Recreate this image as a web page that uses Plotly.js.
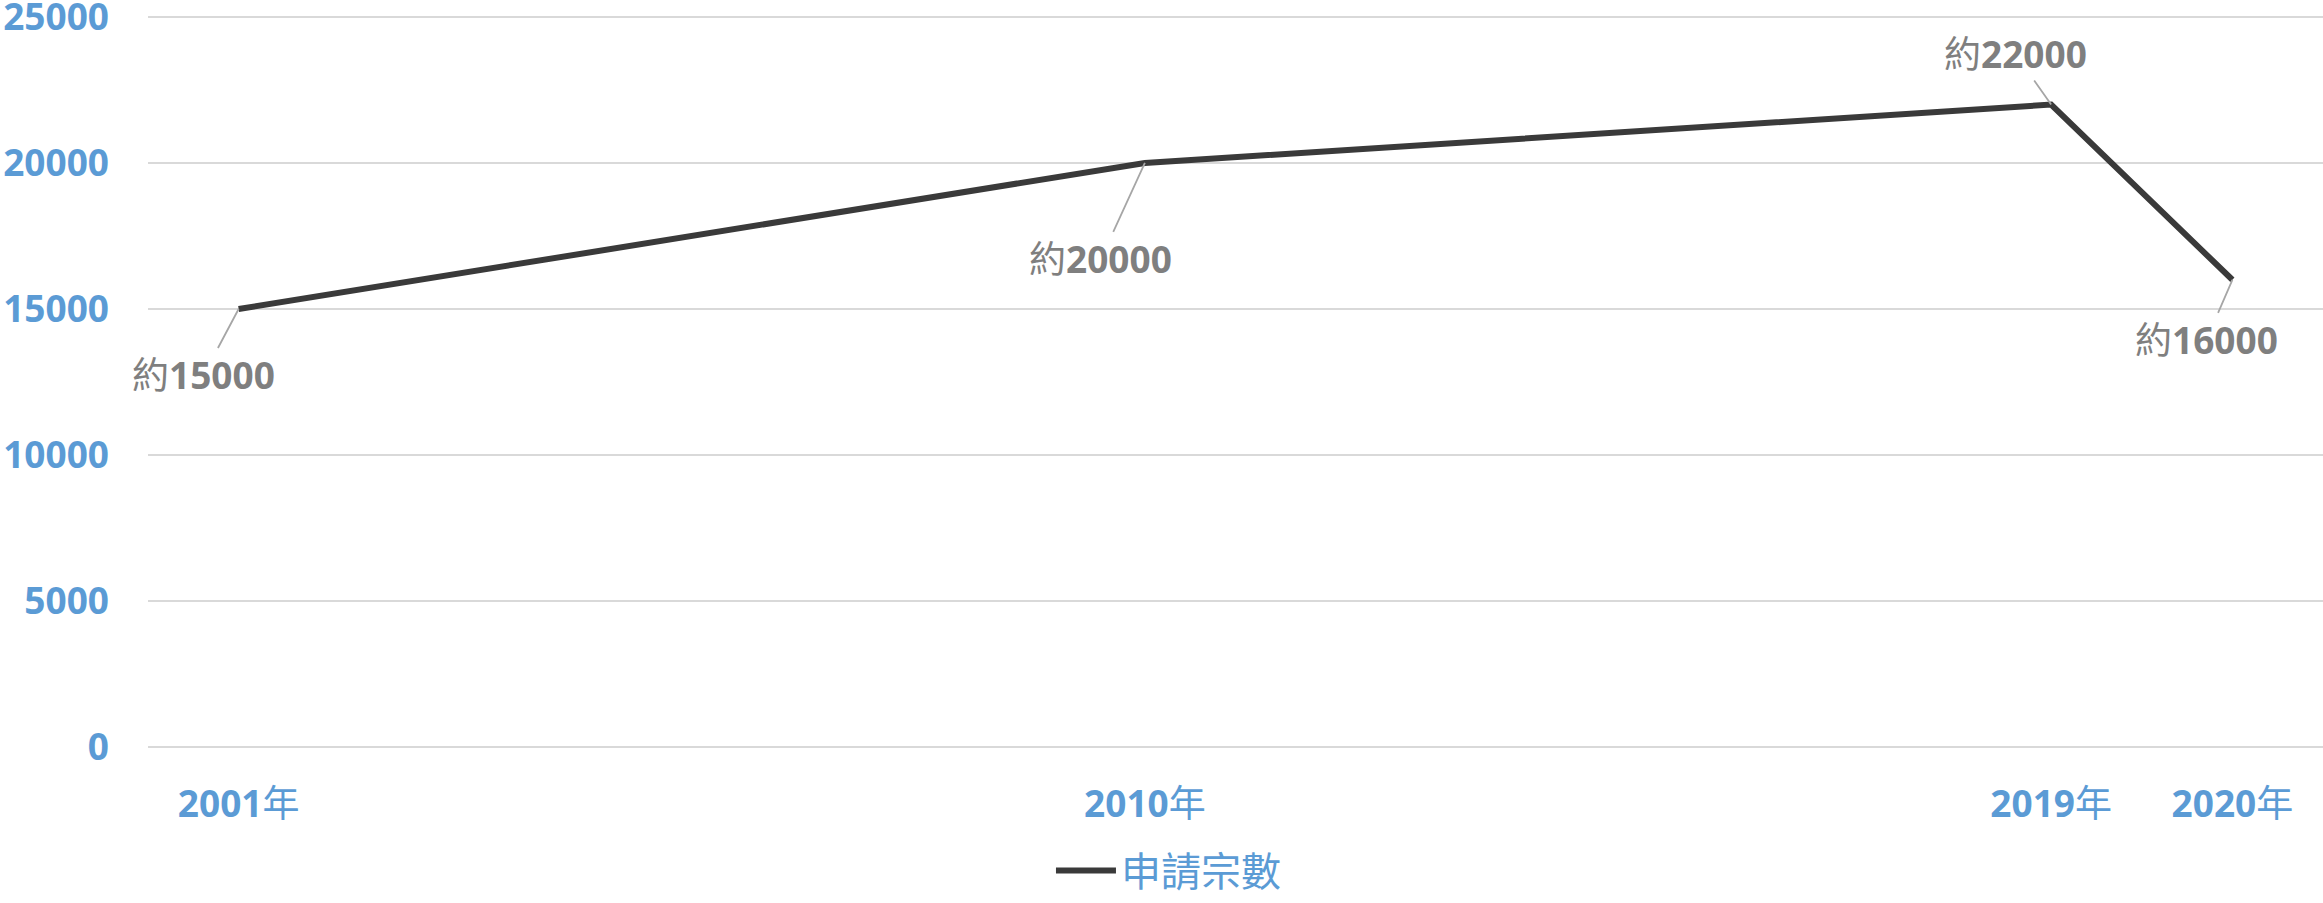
<!DOCTYPE html>
<html>
<head>
<meta charset="utf-8">
<script src="https://cdn.plot.ly/plotly-3.0.1.min.js"></script>
<style>
  html, body { margin: 0; padding: 0; background: #ffffff; }
  #chart { width: 2323px; height: 903px; }
</style>
</head>
<body>
<div id="chart"></div>
<script>
// ---- data ----
const years = [2001, 2010, 2019, 2020];
const applications = [15000, 20000, 22000, 16000];
const seriesName = '申請宗數';
const labelPrefix = '約';
const yTicks = [0, 5000, 10000, 15000, 20000, 25000];

// category slots on the original chart's axis (uneven spacing as drawn)
const slots = [0, 5, 10, 11];

const blue = '#5B9BD5';
const gray = '#7F7F7F';
const fontFam = '"Noto Sans", "Noto Sans CJK TC", sans-serif';

// label offsets (pixels) for the data labels, matching the reference placement
const labelOffsets = [[-35, 66], [-44, 96], [-36, -51], [-26, 60]];

const trace = {
  x: slots,
  y: applications,
  type: 'scatter',
  mode: 'lines',
  name: seriesName,
  line: { color: '#3A3A3A', width: 6 },
  hoverinfo: 'skip',
  showlegend: true
};

const annotations = applications.map((v, i) => ({
  x: slots[i],
  y: v,
  xref: 'x',
  yref: 'y',
  text: labelPrefix + '<b>' + v + '</b>',
  showarrow: true,
  arrowhead: 0,
  arrowwidth: 1.8,
  arrowcolor: '#A6A6A6',
  ax: labelOffsets[i][0],
  ay: labelOffsets[i][1],
  standoff: 0,
  font: { family: fontFam, size: 37, color: gray, weight: 'normal' }
}));

const layout = {
  width: 2323,
  height: 903,
  margin: { l: 148, r: 0, t: 14, b: 153 },
  paper_bgcolor: '#ffffff',
  plot_bgcolor: '#ffffff',
  font: { family: fontFam },
  xaxis: {
    type: 'linear',
    range: [-0.5, 11.5],
    automargin: false,
    tickmode: 'array',
    tickvals: slots,
    ticktext: years.map(y => '<b>' + y + '</b>年'),
    showgrid: false,
    zeroline: false,
    showline: false,
    ticks: '',
    ticklabelstandoff: 29,
    tickfont: { family: fontFam, size: 37, color: blue, weight: 'normal' },
    fixedrange: true
  },
  yaxis: {
    range: [-100, 25100],
    automargin: false,
    tickmode: 'array',
    tickvals: yTicks,
    ticktext: yTicks.map(String),
    showgrid: true,
    gridcolor: '#D9D9D9',
    gridwidth: 2,
    zeroline: false,
    showline: false,
    ticks: '',
    ticklabelstandoff: 38,
    ticklabeloverflow: 'allow',
    tickfont: { family: fontFam, size: 37, color: blue, weight: 'bold' },
    fixedrange: true
  },
  showlegend: true,
  legend: {
    orientation: 'h',
    xref: 'container',
    yref: 'container',
    x: 0.503,
    xanchor: 'center',
    y: 0,
    yanchor: 'bottom',
    itemwidth: 60,
    font: { family: fontFam, size: 40, color: blue },
    bgcolor: 'rgba(0,0,0,0)'
  },
  annotations: annotations
};

Plotly.newPlot('chart', [trace], layout, { displayModeBar: false, staticPlot: true });
</script>
</body>
</html>
